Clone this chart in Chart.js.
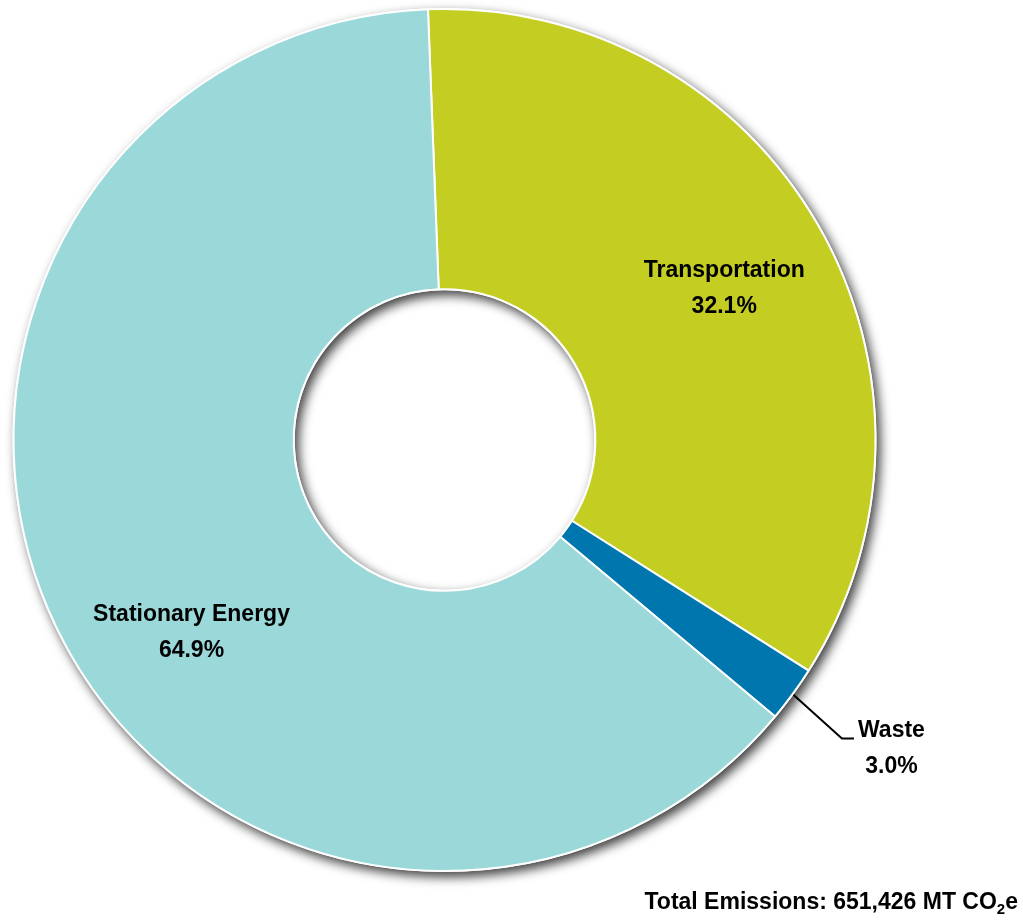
<!DOCTYPE html>
<html><head><meta charset="utf-8">
<script src="https://cdn.jsdelivr.net/npm/chart.js@4/dist/chart.umd.min.js"></script>
<style>
html,body{margin:0;padding:0;background:#fff;}
#wrap{position:relative;width:1023px;height:924px;overflow:hidden;}
#total{position:absolute;right:5px;top:888px;font:bold 23px "Liberation Sans",Arial,sans-serif;color:#000;white-space:nowrap;line-height:26px;}
#total sub{font-size:15px;vertical-align:-5px;line-height:0;}
</style></head><body>
<div id="wrap"><canvas id="c" width="1023" height="924"></canvas><div id="total">Total Emissions: 651,426 MT CO<sub>2</sub>e</div></div>
<script>
// Data (slice order clockwise from the top)
const categories = ['Transportation', 'Waste', 'Stationary Energy'];
const shares = [34.6, 2.1, 63.3];              // share of the ring as drawn (%)
const percentLabels = ['32.1%', '3.0%', '64.9%'];   // printed labels

// Styles
const colors = ['#C3CD22', '#0076AE', '#9AD8DA'];
const labelOffsets = [[0.649, -0.350], [1.037, 0.716], [-0.587, 0.446]]; // label centres, in outer radii
const FONT = 'bold 23px "Liberation Sans", Arial, sans-serif';

const ringShadow = {
  id: 'ringShadow',
  beforeDatasetsDraw(chart) {
    const a = chart.getDatasetMeta(0).data[0];
    const ctx = chart.ctx;
    ctx.save();
    ctx.shadowColor = 'rgba(0,0,0,0.75)';
    ctx.shadowBlur = 11;
    ctx.shadowOffsetX = 4;
    ctx.shadowOffsetY = 5;
    ctx.beginPath();
    ctx.arc(a.x, a.y, a.outerRadius + 1, 0, Math.PI * 2);
    ctx.arc(a.x, a.y, a.innerRadius - 1, 0, Math.PI * 2, true);
    ctx.fillStyle = '#fff';
    ctx.fill();
    ctx.restore();
  }
};

const sliceLabels = {
  id: 'sliceLabels',
  afterDatasetsDraw(chart) {
    const meta = chart.getDatasetMeta(0);
    const ctx = chart.ctx;
    ctx.save();
    ctx.font = FONT;
    ctx.fillStyle = '#000';
    ctx.textAlign = 'center';
    ctx.textBaseline = 'middle';
    meta.data.forEach((arc, i) => {
      const R = arc.outerRadius;
      const lx = arc.x + labelOffsets[i][0] * R;
      const ly = arc.y + labelOffsets[i][1] * R;
      ctx.fillText(categories[i], lx, ly - 18);
      ctx.fillText(percentLabels[i], lx, ly + 18);
      if (i === 1) {
        const mid = (arc.startAngle + arc.endAngle) / 2;
        const sx = arc.x + Math.cos(mid) * (R + 1);
        const sy = arc.y + Math.sin(mid) * (R + 1);
        ctx.beginPath();
        ctx.moveTo(sx, sy);
        ctx.lineTo(lx - 49.5, ly - 10);
        ctx.lineTo(lx - 37.5, ly - 10);
        ctx.strokeStyle = '#000';
        ctx.lineWidth = 2;
        ctx.stroke();
      }
    });
    ctx.restore();
  }
};

new Chart(document.getElementById('c'), {
  type: 'doughnut',
  data: {
    labels: categories,
    datasets: [{
      data: shares,
      backgroundColor: colors,
      borderColor: '#ffffff',
      borderWidth: 2
    }]
  },
  options: {
    responsive: false,
    animation: false,
    rotation: -2.2,
    cutout: '35%',
    layout: { padding: { left: 12.5, right: 146.5, top: 8, bottom: 52 } },
    plugins: { legend: { display: false }, tooltip: { enabled: false } }
  },
  plugins: [ringShadow, sliceLabels]
});
</script>
</body></html>
